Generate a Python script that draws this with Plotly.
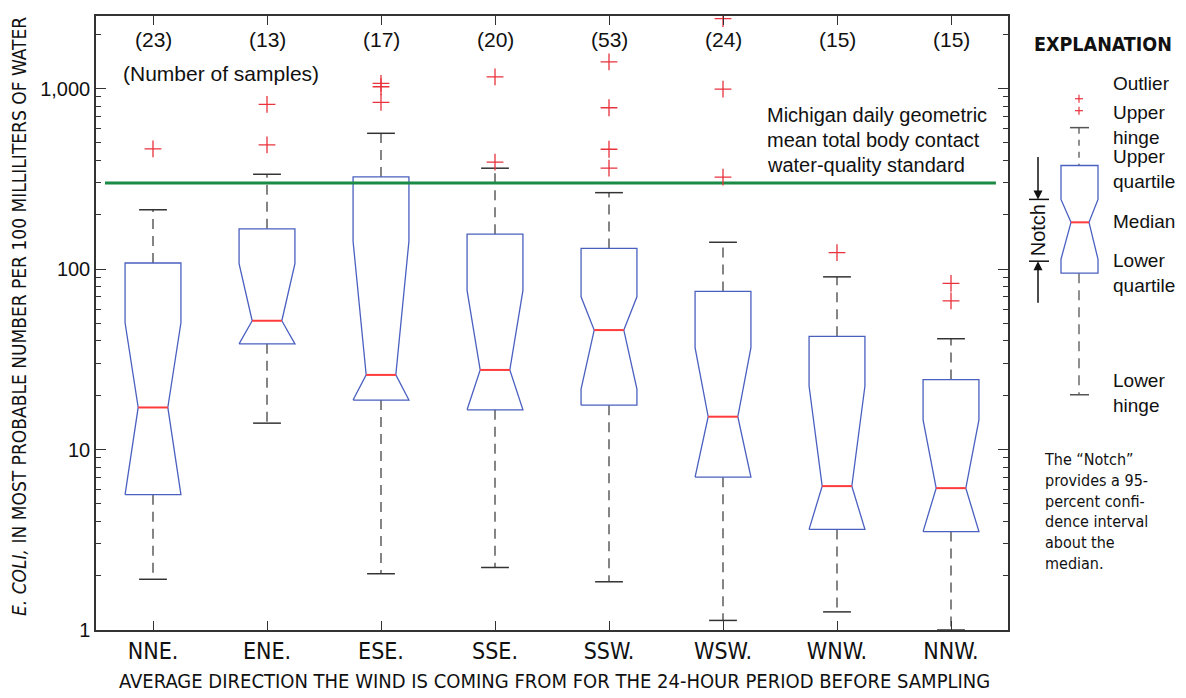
import plotly.graph_objects as go

# ---------------- data ----------------
categories = ["NNE.", "ENE.", "ESE.", "SSE.", "SSW.", "WSW.", "WNW.", "NNW."]
n_samples = [23, 13, 17, 20, 53, 24, 15, 15]
lower_hinge = [1.91, 14.0, 2.05, 2.22, 1.85, 1.13, 1.26, 1.0]
q1 = [5.62, 38.5, 18.8, 16.6, 17.6, 7.03, 3.61, 3.51]
notch_lo = [5.62, 38.5, 18.8, 16.6, 21.6, 7.03, 3.61, 3.51]
median = [17.1, 51.7, 25.9, 27.6, 45.9, 15.2, 6.27, 6.11]
notch_hi = [50.4, 107.0, 142.6, 76.2, 70.2, 36.7, 22.5, 14.6]
q3 = [108.0, 167.0, 324.0, 156.0, 130.0, 75.2, 42.4, 24.4]
upper_hinge = [213.0, 335.0, 565.0, 362.0, 265.0, 140.7, 90.5, 41.1]
outliers = [[463], [817, 487], [1067, 1023, 838], [1162, 391],
            [1406, 783, 461, 362], [2438, 993, 323], [123.4], [83.2, 66.7]]
michigan_standard = 300
y_tick_vals = [1, 10, 100, 1000]
y_tick_text = ["1", "10", "100", "1,000"]

# ---------------- style ----------------
REG = "Liberation Sans, Arial, sans-serif"
NARROW = "Liberation Sans Narrow, Arial Narrow, DejaVu Sans Condensed, sans-serif"
BLUE = "#4a60c0"
RED = "#ff3b3b"
CROSS = "#e8323c"
GREEN = "#1b8a45"
DARK = "#333333"
half_w = 0.245
notch_w = 0.13
cap_w = 0.122

# plot-area edges in page pixels (page has an 8px body margin)
L, R, T, B = 96, 1008, 14, 630
W, H = R - L, B - T
OFF = 8
FIG_W, FIG_H = 1186 - OFF, 698 - OFF


def px(x):
    return (x - L) / W


def py(y):
    return (B - y) / H


xs = list(range(1, len(categories) + 1))

fig = go.Figure()

bx, by = [], []
mx, my = [], []
wx, wy = [], []
cx, cy = [], []
ox, oy = [], []
for i, x in enumerate(xs):
    nlo = max(notch_lo[i], q1[i])
    nhi = min(notch_hi[i], q3[i])
    bx += [x - half_w, x + half_w, x + half_w, x + notch_w, x + half_w, x + half_w,
           x - half_w, x - half_w, x - notch_w, x - half_w, x - half_w, None]
    by += [q1[i], q1[i], nlo, median[i], nhi, q3[i],
           q3[i], nhi, median[i], nlo, q1[i], None]
    mx += [x - notch_w, x + notch_w, None]
    my += [median[i], median[i], None]
    wx += [x, x, None, x, x, None]
    wy += [q3[i], upper_hinge[i], None, q1[i], lower_hinge[i], None]
    cx += [x - cap_w, x + cap_w, None, x - cap_w, x + cap_w, None]
    cy += [upper_hinge[i], upper_hinge[i], None, lower_hinge[i], lower_hinge[i], None]
    for v in outliers[i]:
        ox.append(x)
        oy.append(v)

fig.add_trace(go.Scatter(x=wx, y=wy, mode="lines",
                         line=dict(color="#444444", width=1.3, dash="10px,7px"),
                         hoverinfo="skip", showlegend=False))
fig.add_trace(go.Scatter(x=cx, y=cy, mode="lines",
                         line=dict(color=DARK, width=1.5),
                         hoverinfo="skip", showlegend=False))
fig.add_trace(go.Scatter(x=bx, y=by, mode="lines",
                         line=dict(color=BLUE, width=1.3),
                         hoverinfo="skip", showlegend=False))
fig.add_trace(go.Scatter(x=mx, y=my, mode="lines",
                         line=dict(color=RED, width=2),
                         hoverinfo="skip", showlegend=False))
fig.add_trace(go.Scatter(x=[0.579, 8.394], y=[michigan_standard, michigan_standard],
                         mode="lines", line=dict(color=GREEN, width=3),
                         hoverinfo="skip", showlegend=False))
fig.add_trace(go.Scatter(x=ox, y=oy, mode="markers",
                         marker=dict(symbol="cross-thin", size=12,
                                     line=dict(color=CROSS, width=1.3)),
                         hoverinfo="skip", showlegend=False))

annotations = []
shapes = []

for i, x in enumerate(xs):
    annotations.append(dict(x=x, y=py(38), xref="x", yref="paper", text=f"({n_samples[i]})",
                            showarrow=False, font=dict(family=REG, size=21, color="#111"),
                            xanchor="center", yanchor="middle"))
annotations.append(dict(x=px(121), y=py(72), xref="paper", yref="paper",
                        text="(Number of samples)", showarrow=False,
                        font=dict(family=REG, size=21, color="#111"),
                        xanchor="left", yanchor="middle"))
for j, line in enumerate(["Michigan daily geometric", "mean total body contact",
                          "water-quality standard"]):
    annotations.append(dict(x=px(765), y=py(113 + 25 * j), xref="paper", yref="paper",
                            text=line, showarrow=False,
                            font=dict(family=REG, size=20, color="#111"),
                            xanchor="left", yanchor="middle"))

annotations.append(dict(x=px(19), y=py(316), xref="paper", yref="paper",
                        text="<i>E. COLI,</i> IN MOST PROBABLE NUMBER PER 100 MILLILITERS OF WATER",
                        textangle=-90, showarrow=False,
                        font=dict(family=NARROW, size=19, color="#111"),
                        xanchor="center", yanchor="middle"))
annotations.append(dict(x=px(554), y=py(681), xref="paper", yref="paper",
                        text="AVERAGE DIRECTION THE WIND IS COMING FROM FOR THE 24-HOUR PERIOD BEFORE SAMPLING",
                        showarrow=False,
                        font=dict(family=NARROW, size=20, color="#111"),
                        xanchor="center", yanchor="middle"))

# ---------------- explanation panel ----------------
annotations.append(dict(x=px(1103), y=py(43), xref="paper", yref="paper",
                        text="<b>EXPLANATION</b>", showarrow=False,
                        font=dict(family=NARROW, size=19.5, color="#111"),
                        xanchor="center", yanchor="middle"))
lab_font = dict(family=REG, size=19, color="#111")
for text, yy in [("Outlier", 82), ("Upper<br>hinge", 123), ("Upper<br>quartile", 167),
                 ("Median", 220), ("Lower<br>quartile", 272), ("Lower<br>hinge", 392)]:
    annotations.append(dict(x=px(1111), y=py(yy), xref="paper", yref="paper", text=text,
                            showarrow=False, font=lab_font, xanchor="left", yanchor="middle",
                            align="left"))
notes = "The \u201cNotch\u201d<br>provides a 95-<br>percent confi-<br>dence interval<br>about the<br>median."
annotations.append(dict(x=px(1042), y=py(511), xref="paper", yref="paper",
                        text=notes, showarrow=False, align="left",
                        font=dict(family=NARROW, size=16, color="#111"),
                        xanchor="left", yanchor="middle"))
annotations.append(dict(x=px(1038), y=py(229), xref="paper", yref="paper", text="Notch",
                        textangle=-90, showarrow=False,
                        font=dict(family=REG, size=20, color="#111"),
                        xanchor="center", yanchor="middle"))
annotations.append(dict(x=px(1038), y=py(198), xref="paper", yref="paper", text="",
                        showarrow=True, ax=0, ay=-44, arrowhead=2, arrowsize=1.2,
                        arrowwidth=1.5, arrowcolor="#111"))
annotations.append(dict(x=px(1038), y=py(260), xref="paper", yref="paper", text="",
                        showarrow=True, ax=0, ay=43, arrowhead=2, arrowsize=1.2,
                        arrowwidth=1.5, arrowcolor="#111"))


def pline(x0, y0, x1, y1, color, width=1.4, dash="solid"):
    shapes.append(dict(type="line", xref="paper", yref="paper",
                       x0=px(x0), y0=py(y0), x1=px(x1), y1=py(y1),
                       line=dict(color=color, width=width, dash=dash)))


pline(1029, 198, 1049, 198, "#111", 1.5)
pline(1029, 260, 1049, 260, "#111", 1.5)
for cyy in (97, 109):
    pline(1075, cyy, 1083, cyy, CROSS, 1.2)
    pline(1079, cyy - 4, 1079, cyy + 4, CROSS, 1.2)
pline(1070, 126, 1089, 126, "#555", 1.5)
pline(1079, 126, 1079, 164, "#555", 1.3, "6px,6px")
pline(1079, 272, 1079, 394, "#555", 1.3, "10px,7px")
pline(1070, 394, 1089, 394, "#555", 1.5)
pts = [(1061, 272), (1098, 272), (1098, 258), (1089, 221), (1098, 198), (1098, 164),
       (1061, 164), (1061, 198), (1071, 221), (1061, 258)]
path = "M " + " L ".join(f"{px(a):.5f},{py(b):.5f}" for a, b in pts) + " Z"
shapes.append(dict(type="path", xref="paper", yref="paper", path=path,
                   line=dict(color=BLUE, width=1.3)))
pline(1071, 221, 1089, 221, RED, 2)

fig.update_layout(
    width=FIG_W, height=FIG_H,
    margin=dict(l=L - OFF, r=FIG_W - (R - OFF), t=T - OFF, b=FIG_H - (B - OFF)),
    paper_bgcolor="white", plot_bgcolor="white",
    showlegend=False,
    annotations=annotations, shapes=shapes,
    xaxis=dict(range=[0.5, 8.5], tickmode="array", tickvals=xs, ticktext=categories,
               ticks="inside", ticklen=9, tickcolor=DARK, tickwidth=1.2,
               showline=True, linecolor=DARK, linewidth=1.5, mirror="ticks",
               showgrid=False, zeroline=False,
               tickfont=dict(family=NARROW, size=23, color="#111")),
    yaxis=dict(type="log", range=[0, 3.402], tickmode="array", tickvals=y_tick_vals,
               ticktext=y_tick_text, ticks="inside", ticklen=10, tickcolor=DARK,
               tickwidth=1.2, showline=True, linecolor=DARK, linewidth=1.5,
               mirror="ticks", showgrid=False, zeroline=False,
               tickfont=dict(family=REG, size=20, color="#111"),
               minor=dict(tickmode="array",
                          tickvals=[2, 3, 4, 5, 6, 7, 8, 9, 20, 30, 40, 50, 60, 70, 80, 90,
                                    200, 300, 400, 500, 600, 700, 800, 900, 2000],
                          ticks="inside", ticklen=5, tickcolor=DARK, tickwidth=1,
                          showgrid=False)),
)

fig.write_html("out.html")
